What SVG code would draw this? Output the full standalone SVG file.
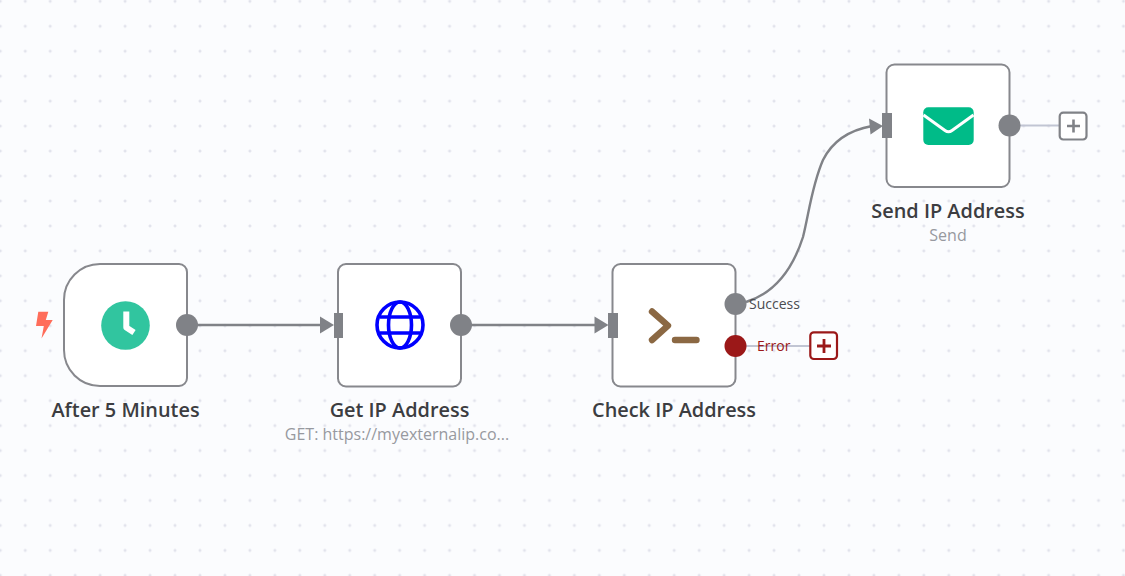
<svg xmlns="http://www.w3.org/2000/svg" width="1125" height="576" viewBox="0 0 1125 576">
<style>
.card{fill:#fff;stroke:#87888d;stroke-width:2}
.port{fill:#808287}
.title{font:600 19.9px "Open Sans",sans-serif;fill:#3c3d41;text-anchor:middle}
.sub{font:400 16px "Open Sans",sans-serif;fill:#97999f;text-anchor:middle}
.conn{fill:none;stroke:#808287;stroke-width:2.4}
.stub{fill:none;stroke:#c1c5d3;stroke-width:2}
.tag{font:400 14px "Open Sans",sans-serif}
.plus{fill:#fff;stroke-width:2.2}
.d{fill:#dcdde8}
</style>
<defs>
<pattern id="dots" patternUnits="userSpaceOnUse" x="0.3" y="1.3" width="24.96" height="24.96">
<rect class="d" x="-1.5" y="-0.6" width="3" height="1.2"/>
<rect class="d" x="-0.6" y="-1.5" width="1.2" height="3"/>
<rect class="d" x="23.46" y="-0.6" width="3" height="1.2"/>
<rect class="d" x="24.36" y="-1.5" width="1.2" height="3"/>
<rect class="d" x="-1.5" y="24.36" width="3" height="1.2"/>
<rect class="d" x="-0.6" y="23.46" width="1.2" height="3"/>
<rect class="d" x="23.46" y="24.36" width="3" height="1.2"/>
<rect class="d" x="24.36" y="23.46" width="1.2" height="3"/>
</pattern>
</defs>
<rect width="1125" height="576" fill="#fbfcfe"/>
<rect width="1125" height="576" fill="url(#dots)"/>
<g id="connectors">
<path class="conn" d="M187 325H322"/>
<polygon class="port" points="320,316.500 334,325 320,333.500"/>
<path class="conn" d="M461 325H596"/>
<polygon class="port" points="594.500,316.500 608.500,325 594.500,333.500"/>
<path class="conn" d="M746 302C775 293 793 268 803 237C809 213 812 185 823 160C833 140 850 130 872 126"/>
<polygon class="port" points="869,118.500 883,126 870.500,134.500"/>
<path class="stub" d="M746 346H810"/>
<path class="stub" d="M1020 125.500H1059"/>
</g>
<g id="after-5-minutes">
<path class="card" d="M100 264H179A8 8 0 0 1 187 272V378A8 8 0 0 1 179 386H100A36 36 0 0 1 64 350V300A36 36 0 0 1 100 264Z"/>
<circle cx="125.500" cy="325.500" r="24.300" fill="#31c59f"/>
<path d="M126.300 311.500V327.500L134 332.500" fill="none" stroke="#fff" stroke-width="6" stroke-linejoin="round"/>
<polygon points="38.300,311.700 48.300,311.700 45.800,320 52.700,320 41.500,338.500 43.800,326 36,326" fill="#ff6d5a"/>
<circle class="port" cx="187" cy="325" r="11"/>
<text class="title" x="125.500" y="417">After 5 Minutes</text>
</g>
<g id="get-ip-address">
<rect class="card" x="338" y="264" width="123" height="122.500" rx="8"/>
<g fill="none" stroke="#0000ff" stroke-width="3.600">
<circle cx="400" cy="325" r="23"/>
<ellipse cx="400" cy="325" rx="11.500" ry="23"/>
<path d="M380 317H420M380 333H420"/>
</g>
<rect class="port" x="334" y="313" width="9" height="25"/>
<circle class="port" cx="461" cy="325" r="11"/>
<text class="title" x="399.500" y="417">Get IP Address</text>
<text class="sub" x="397" y="440">GET: https://myexternalip.co...</text>
</g>
<g id="check-ip-address">
<rect class="card" x="612.500" y="264" width="123" height="122.500" rx="8"/>
<path d="M652 311.500L668 325.700L652 340M675 340H696.500" fill="none" stroke="#8b6843" stroke-width="6.400" stroke-linecap="round" stroke-linejoin="round"/>
<rect class="port" x="608" y="313" width="10" height="25"/>
<circle class="port" cx="735.500" cy="304" r="11"/>
<circle cx="735.500" cy="346" r="11" fill="#9b1818"/>
<text class="title" x="674" y="417">Check IP Address</text>
<text class="tag" x="749" y="308.500" fill="#4a4b50">Success</text>
<text class="tag" x="757" y="350.500" fill="#9b1818">Error</text>
<rect class="plus" x="810.300" y="332.300" width="26.700" height="26.700" rx="3.500" stroke="#9b1818"/>
<path d="M817 346H831M824 339V353" stroke="#9b1818" stroke-width="2.800" fill="none"/>
</g>
<g id="send-ip-address">
<rect class="card" x="886.500" y="64.500" width="123" height="122.500" rx="8"/>
<rect x="923.300" y="107.300" width="50.400" height="37.700" rx="5" fill="#00bb88"/>
<path d="M923.500 115L945 130.500Q948.500 133 952 130.500L973.500 115" fill="none" stroke="#fff" stroke-width="3"/>
<rect class="port" x="882" y="113" width="10" height="25"/>
<circle class="port" cx="1009.500" cy="125.500" r="11"/>
<rect class="plus" x="1059.700" y="112.700" width="26.800" height="26.800" rx="3.500" stroke="#808287"/>
<path d="M1067 126H1080M1073.500 119.500V132.500" stroke="#808287" stroke-width="2.600" fill="none"/>
<text class="title" x="948" y="218">Send IP Address</text>
<text class="sub" x="948" y="241">Send</text>
</g>
</svg>
